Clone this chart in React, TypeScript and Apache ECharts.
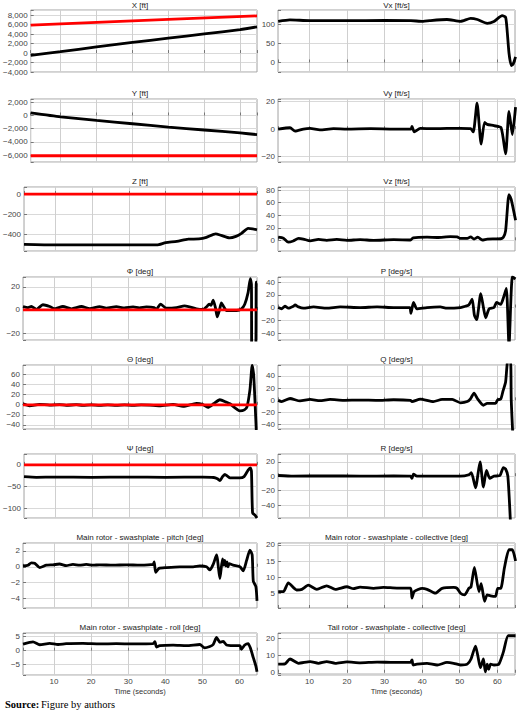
import { useEffect, useRef } from "react";
import * as echarts from "echarts";

type Pt = [number, number];

// ---- panel texts and y axis ranges (left column, then right column) ----
const leftTitles = [
  "X [ft]",
  "Y [ft]",
  "Z [ft]",
  "Φ [deg]",
  "Θ [deg]",
  "Ψ [deg]",
  "Main rotor - swashplate - pitch [deg]",
  "Main rotor - swashplate - roll [deg]",
];
const rightTitles = [
  "Vx [ft/s]",
  "Vy [ft/s]",
  "Vz [ft/s]",
  "P [deg/s]",
  "Q [deg/s]",
  "R [deg/s]",
  "Main rotor - swashplate - collective [deg]",
  "Tail rotor - swashplate - collective [deg]",
];
const leftRanges: Pt[] = [
  [-4000, 9100],
  [-7050, 2500],
  [-565, 70],
  [-26, 28.5],
  [-48, 79],
  [-122, 25],
  [-5.2, 3],
  [-8.7, 6.3],
];
const rightRanges: Pt[] = [
  [-25, 138],
  [-24, 22],
  [-17, 85],
  [-51, 48],
  [-47, 58],
  [-58, 30.8],
  [0.4, 20.6],
  [-1.3, 23.1],
];
const leftSteps = [2000, 2000, 200, 20, 20, 50, 2, 5];
const rightSteps = [50, 20, 20, 20, 20, 20, 5, 10];
const leftSplits = [7, 5, 3, 3, 6, 3, 4, 3];
const rightSplits = [3, 2, 5, 5, 5, 4, 4, 2];
const timeRange: Pt = [1.65, 64.7];
const timeStep = 10;
const timeLabel = "Time (seconds)";

// ---- series: [time s, value] ----
const posX: Pt[] = [[1.65, -500], [10, 300], [20, 1300], [30, 2250], [40, 3150], [50, 4050], [60, 4950], [64.7, 5550]];
const posXRef: Pt[] = [[1.65, 5900], [20, 6500], [40, 7100], [64.7, 7850]];
const posY: Pt[] = [[1.65, 400], [10, -200], [20, -750], [30, -1250], [40, -1750], [50, -2200], [60, -2650], [64.7, -2900]];
const posYRef: Pt[] = [[1.65, -6100], [64.7, -6100]];
const posZ: Pt[] = [
  [1.65, -500], [10, -505], [20, -505], [30, -505], [37.6, -505], [40, -482], [43, -470], [46, -448],
  [49, -445], [51, -430], [53.5, -395], [55, -410], [57.3, -435], [59, -420], [60.5, -390], [62.3, -340],
  [63.5, -345], [64.7, -355],
];
const posZRef: Pt[] = [[1.65, 0], [64.7, 0]];
const phi: Pt[] = [
  [1.65, 3], [3, 2], [3.9, 3], [5.25, 0.5], [7, 4.5], [8.85, 3], [10.2, 1], [12.4, 3], [14.7, 1], [17.4, 3],
  [19.6, 1.2], [22.3, 2.8], [24.1, 1.5], [26.8, 2.8], [29, 1.8], [31.3, 2.6], [33, 1.8], [34.9, 2.6], [37, 2],
  [37.6, 0.5], [38.7, 5], [40.3, 1.5], [43, 2], [45.2, 3.5], [48.4, 1], [50.2, 0.5], [51.2, 3], [51.8, 5],
  [52.3, 4], [52.9, 8.5], [53.5, 2], [54, -6], [54.6, 0], [55.1, 6], [55.7, 3], [56.5, -0.5], [59.2, -0.5],
  [60.5, 1], [61.4, 5], [62.3, 15], [62.9, 27], [63.2, 22], [63.3, -40], [64.3, -40], [64.5, 24], [64.7, 24],
];
const phiRef: Pt[] = [[1.65, 0], [64.7, 0]];
const theta: Pt[] = [
  [1.65, 2], [3.4, -2], [6.1, 1], [8.8, -0.5], [11.5, 0.5], [13.3, -1], [16, 0.3], [17.8, -1], [20, 0],
  [22.3, -1], [24.5, 0], [26.8, -1], [29, 0], [31.3, -1], [33.5, 0], [35.8, -0.5], [38.5, -2], [42.1, 1],
  [44.8, -3], [48.4, 3], [50, 1], [51.5, -5], [53, 2], [54.7, 10], [56.5, 5], [57.4, 2], [60.1, -12],
  [61.3, -10], [62, -4], [62.8, 30], [63.4, 78], [63.8, 60], [64.5, -50],
];
const thetaRef: Pt[] = [[1.65, 0], [64.7, 0]];
const psi: Pt[] = [
  [1.65, -27], [5, -28.5], [10, -28], [20, -28.5], [30, -28], [40, -28.5], [50, -28], [53, -29], [54, -32],
  [54.7, -36], [55.3, -28], [56, -22], [56.7, -26], [57.4, -30], [60, -30], [61.2, -27], [62.3, -12],
  [62.9, -7], [63.2, -15], [63.5, -110], [64.1, -115], [64.7, -122],
];
const psiRef: Pt[] = [[1.65, 0], [64.7, 0]];
const pitch: Pt[] = [
  [1.65, 0.1], [3, 0.2], [3.9, 0.5], [4.8, 0.45], [6.15, -0.1], [7.95, 0.2], [9.75, 0.25], [11.5, 0.35],
  [13.3, 0.15], [15.1, 0.3], [16.9, 0.2], [18.7, 0.3], [20.5, 0.2], [22.3, 0.25], [25.9, 0.2], [29.5, 0.25],
  [33.1, 0.2], [36.7, 0.3], [37, 0.6], [37.4, -0.7], [38.3, -0.2], [40.3, -0.1], [43.9, 0], [47.5, 0],
  [49.3, 0.1], [51.1, 0], [52, -0.4], [52.9, 0.3], [53.8, 1.5], [54.7, -1.5], [55.4, 1], [55.7, 0.2],
  [56, 0.8], [56.3, 0.1], [56.6, 0.6], [56.9, 0], [57.2, 0.4], [58.3, 0.2], [60.1, 0], [61, -0.5],
  [61.9, 0.8], [62.8, 2.1], [63.4, 1.5], [63.7, -1.8], [64.4, -2.5], [64.7, -4.3],
];
const roll: Pt[] = [
  [1.65, 2.3], [4.35, 3.1], [6.15, 2.1], [8.85, 2.6], [11.1, 2.2], [13.3, 2.5], [17.8, 2.6], [22.3, 2.4],
  [26.8, 2.5], [31.3, 2.4], [36.7, 2.5], [37.2, 3.2], [37.6, 1.3], [38.5, 1.8], [42.1, 2.0], [45.7, 1.8],
  [49.3, 2.2], [50.6, 1.0], [52, 1.5], [52.9, 2.2], [53.8, 4.7], [54.7, 3.0], [55.6, 3.3], [56.5, 2.0],
  [58.3, 1.8], [60.1, 1.8], [60.5, 0.5], [61.4, 2], [62.3, 2.5], [62.9, 1.0], [63.7, -2.5], [64.4, -5.5],
  [64.7, -7.5],
];
const vx: Pt[] = [
  [1.7, 108], [4.8, 112], [10, 110], [20, 110], [30, 110.5], [37, 110], [40.3, 108], [42, 110], [46.6, 113],
  [50.2, 108], [52.9, 116], [54.7, 113], [57.3, 103], [59.1, 108], [61.3, 123], [62.2, 119], [62.6, 85],
  [63.1, 25], [63.7, -8], [64.2, -4], [64.85, 15],
];
const vy: Pt[] = [
  [1.7, 0], [4.85, 1], [6.2, -1.5], [8.4, 0], [10.2, 0.5], [12.8, -0.5], [16.4, 0.3], [20, 0], [26.3, 0.3],
  [32.5, 0], [37, 0], [37.3, 2], [37.9, -2], [39.5, 0.5], [43, 0.3], [46.6, 0.5], [50.2, 0.5], [52.9, 0.3],
  [53.6, -2], [54.6, 19], [55.7, -11], [56.6, 5], [57.3, 3.5], [59.1, 2.5], [61, 1], [62.2, -18], [63.1, 13],
  [64, -4], [64.85, 16],
];
const vz: Pt[] = [
  [1.7, 5], [3.1, 3.5], [4.4, -3], [5.7, -1], [7.1, 3], [8.4, 2], [10.2, -1], [12.4, 1.5], [14.6, 0],
  [17.3, 1.5], [20, 0], [23.5, 1], [27.1, 0], [32.4, 1], [36.9, 0.5], [37.6, 4], [41.3, 5], [44, 4.5],
  [47.5, 6], [49.3, 5.5], [50.2, 3], [52, 3], [52.9, 5.5], [53.8, 2], [54.8, 5], [56, 0.5], [57.3, 2],
  [60.9, 2.5], [61.6, 5], [62.2, 15], [63.1, 73], [63.7, 65], [64.85, 32],
];
const rateP: Pt[] = [
  [1.7, 0], [2.6, -2], [3.5, 2], [4.4, -1], [5.7, 2], [6.2, 4], [7.1, 1], [8.4, -1], [11.1, 1], [14.6, -1],
  [18.2, 1], [23.5, 0], [28, 1], [32.4, 0], [36.7, 0], [37, -9], [37.7, 8], [38.6, -2], [41.3, 0], [44.8, 1],
  [46.6, -1], [50.2, 0], [51.5, 2], [52.4, 4], [53.3, 13], [53.9, -12], [54.5, -19], [55.6, 22], [56.3, 0],
  [56.9, -16], [57.8, -2], [59.1, 0], [59.8, 8], [60.9, 5], [61.6, 15], [62.4, 30], [63.1, -60], [64, 48],
  [64.85, 45],
];
const rateQ: Pt[] = [
  [1.7, 0], [2.6, -2], [4.85, 3], [7.5, -1], [10.2, 1.5], [12.8, -0.5], [15.5, 1.5], [19.1, 0], [23.5, 0.5],
  [28, 0], [32.4, 1], [36.9, 0], [37.3, -2], [39.5, 2], [43, -2], [45.3, 1.5], [48, 1.5], [50.2, -4], [52, -2],
  [52.9, 3], [53.8, 12], [54.7, 3], [56.3, -8], [57.3, -5], [59.5, -5], [60.1, 1], [60.9, 2], [61.5, 15],
  [62.2, 30], [62.8, 65], [63.5, 65], [63.7, 0], [64.1, -55],
];
const rateR: Pt[] = [
  [1.7, 1], [5.7, 0], [14.6, 0.5], [23.5, 0], [32.4, 0.3], [36.9, 0], [37.3, -3], [37.7, 3], [38.6, 0],
  [50.2, 0], [52.4, 2], [53.1, 5], [54.2, -16], [55.4, 20], [56.3, -15], [57.1, 8], [58, -3], [59.1, 0],
  [60.7, 1], [61.6, 12], [62.2, 10], [62.8, 0], [63.5, -65],
];
const collective: Pt[] = [
  [1.7, 5.5], [3.1, 5.5], [4.4, 8.2], [6.6, 6.0], [8, 6.2], [9.7, 7.5], [12, 6.2], [14.6, 7.3], [16.9, 6.2],
  [20, 7.0], [21.7, 6.4], [23.5, 6.9], [27.1, 6.5], [29.7, 6.8], [33.3, 6.6], [36.9, 6.6], [37.3, 3.5],
  [37.9, 5.5], [40, 6.5], [41.3, 6.2], [43.5, 5.0], [45.3, 6.5], [48.4, 6.8], [49.3, 6.5], [50.2, 5.0],
  [51.3, 4.5], [52.4, 6.5], [53, 7], [53.9, 13], [55.1, 5.5], [55.7, 8], [56.6, 2.5], [57.3, 4.5],
  [58.2, 4.2], [59.5, 4], [60.1, 6.5], [60.9, 6.5], [61.9, 13], [63.1, 18.5], [64, 18.5], [64.85, 15],
];
const tailCollective: Pt[] = [
  [1.7, 5], [3.5, 5.2], [4.85, 8], [7.1, 5.5], [10.2, 6.5], [12.4, 5.5], [14.6, 6.5], [16.9, 5.5], [20, 6.3],
  [23.5, 5.8], [28, 6.2], [32.4, 6], [36.9, 6], [37.3, 7.5], [37.6, 4.5], [38.6, 5], [41.3, 5.5], [44, 4.5],
  [46.6, 6], [48.4, 5.5], [50.2, 4.5], [52, 5], [53, 8], [54.2, 15.5], [54.8, 10], [55.5, 3], [56.3, 8],
  [56.8, 0.5], [57.3, 5], [57.7, 2], [58.2, 5], [59.1, 4.5], [60.4, 5], [61.6, 12], [62.9, 21.5],
  [64.85, 21.5],
];

const leftSeries: Pt[][] = [posX, posY, posZ, phi, theta, psi, pitch, roll];
const leftRefs: (Pt[] | null)[] = [posXRef, posYRef, posZRef, phiRef, thetaRef, psiRef, null, null];
const rightSeries: Pt[][] = [vx, vy, vz, rateP, rateQ, rateR, collective, tailCollective];

const FONT = '"Liberation Sans", Arial, Helvetica, sans-serif';
const SERIF = '"Liberation Serif", "Times New Roman", serif';

const onStep = (v: number, step: number) => Math.abs(v / step - Math.round(v / step)) < 1e-6;
const fmtNum = (v: number, comma: boolean) => {
  const a = Math.abs(v);
  const s = comma ? a.toLocaleString("en-US") : String(a);
  return v < 0 ? "\u2212" + s : s;
};

const App = () => {
  const chartRef = useRef<HTMLDivElement>(null);

  useEffect(() => {
    if (!chartRef.current) return;
    const chart = echarts.init(chartRef.current, null, { renderer: "svg" });

    const tops = [10, 99, 187, 277, 365, 454, 543, 633];
    const heights = [62, 63, 64, 63, 64, 64, 65, 42];
    const cols = [
      { left: 23, width: 234 },
      { left: 278, width: 237 },
    ];

    const grids: any[] = [];
    const xAxes: any[] = [];
    const yAxes: any[] = [];
    const series: any[] = [];
    const graphics: any[] = [];

    cols.forEach((col, c) => {
      const titles = c === 0 ? leftTitles : rightTitles;
      const ranges = c === 0 ? leftRanges : rightRanges;
      const steps = c === 0 ? leftSteps : rightSteps;
      const splits = c === 0 ? leftSplits : rightSplits;
      const data = c === 0 ? leftSeries : rightSeries;

      tops.forEach((top, r) => {
        const idx = grids.length;
        const bottomRow = r === tops.length - 1;
        grids.push({
          left: col.left,
          top,
          width: col.width,
          height: heights[r],
          show: true,
          borderColor: "#a3a3a3",
          borderWidth: 1,
          backgroundColor: "#fff",
        });
        xAxes.push({
          type: "value",
          gridIndex: idx,
          min: timeRange[0],
          max: timeRange[1],
          splitNumber: 5,
          axisLine: { show: false },
          axisTick: { show: true, inside: true, length: 3, lineStyle: { color: "#777" } },
          splitLine: { show: true, lineStyle: { color: "#cfcfcf", width: 1 } },
          axisLabel: {
            show: bottomRow,
            fontSize: 8,
            fontFamily: FONT,
            color: "#444",
            margin: 2,
            formatter: (v: number) => (onStep(v, timeStep) ? String(v) : ""),
          },
        });
        const step = steps[r];
        const comma = c === 0 && r < 2;
        yAxes.push({
          type: "value",
          gridIndex: idx,
          min: ranges[r][0],
          max: ranges[r][1],
          splitNumber: splits[r],
          axisLine: { show: false },
          axisTick: { show: true, inside: true, length: 3, lineStyle: { color: "#777" } },
          splitLine: { show: true, lineStyle: { color: "#d9d9d9", width: 1 } },
          axisLabel: {
            fontSize: 8,
            fontFamily: FONT,
            color: "#444",
            margin: 3,
            formatter: (v: number) => (onStep(v, step) ? fmtNum(v, comma) : ""),
          },
        });
        series.push({
          type: "line",
          xAxisIndex: idx,
          yAxisIndex: idx,
          data: data[r],
          showSymbol: false,
          smooth: 0.2,
          clip: true,
          lineStyle: { color: "#000", width: 2.8 },
          z: 2,
        });
        const ref = c === 0 ? leftRefs[r] : null;
        if (ref) {
          series.push({
            type: "line",
            xAxisIndex: idx,
            yAxisIndex: idx,
            data: ref,
            showSymbol: false,
            clip: true,
            lineStyle: { color: "#ff0000", width: 2.8 },
            z: 3,
          });
        }
        graphics.push({
          type: "text",
          x: col.left + col.width / 2,
          y: Math.max(top - 6, 5),
          style: {
            text: titles[r],
            font: `8px ${FONT}`,
            fill: "#222",
            textAlign: "center",
            textVerticalAlign: "middle",
          },
        });
        if (bottomRow) {
          graphics.push({
            type: "text",
            x: col.left + col.width / 2,
            y: top + heights[r] + 16,
            style: {
              text: timeLabel,
              font: `7.5px ${FONT}`,
              fill: "#333",
              textAlign: "center",
              textVerticalAlign: "middle",
            },
          });
        }
      });
    });

    graphics.push({
      type: "text",
      x: 5,
      y: 704,
      style: {
        text: "Source:",
        font: `bold 10.5px ${SERIF}`,
        fill: "#000",
        textAlign: "left",
        textVerticalAlign: "middle",
      },
    });
    graphics.push({
      type: "text",
      x: 41,
      y: 704,
      style: {
        text: "Figure by authors",
        font: `10.5px ${SERIF}`,
        fill: "#000",
        textAlign: "left",
        textVerticalAlign: "middle",
      },
    });

    chart.setOption({
      animation: false,
      backgroundColor: "#fff",
      grid: grids,
      xAxis: xAxes,
      yAxis: yAxes,
      series,
      graphic: graphics,
    });

    return () => {
      chart.dispose();
    };
  }, []);

  return (
    <div
      ref={chartRef}
      style={{ position: "fixed", left: 0, top: 0, width: "520px", height: "714px" }}
    />
  );
};

export default App;
